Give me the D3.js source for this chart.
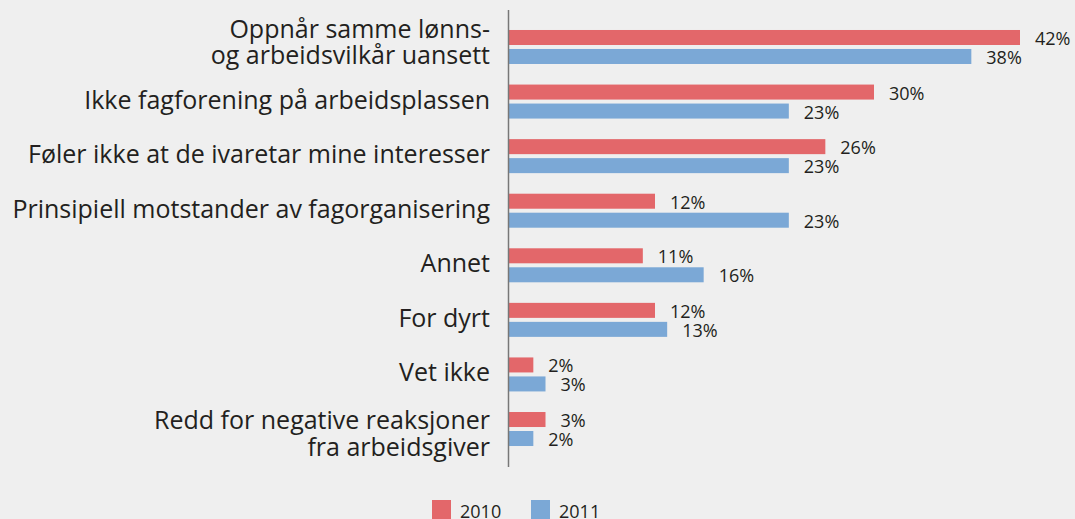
<!DOCTYPE html>
<html>
<head>
<meta charset="utf-8">
<script src="https://cdn.jsdelivr.net/npm/d3@7"></script>
<style>
  body { margin: 0; background: #efefef; }
  svg { display: block; font-family: "Open Sans", "Noto Sans", sans-serif; }
</style>
</head>
<body>
<div id="chart"></div>
<script>
var categories = [
  ["Oppnår samme lønns-", "og arbeidsvilkår uansett"],
  ["Ikke fagforening på arbeidsplassen"],
  ["Føler ikke at de ivaretar mine interesser"],
  ["Prinsipiell motstander av fagorganisering"],
  ["Annet"],
  ["For dyrt"],
  ["Vet ikke"],
  ["Redd for negative reaksjoner", "fra arbeidsgiver"]
];
var series = ["2010", "2011"];
var values2010 = [42, 30, 26, 12, 11, 12, 2, 3];
var values2011 = [38, 23, 23, 23, 16, 13, 3, 2];
var colors = ["#e3676a", "#7ba8d6"];

var svgWidth = 1075, svgHeight = 519;

var svg = d3.select("#chart").append("svg")
  .attr("width", svgWidth)
  .attr("height", svgHeight);

svg.append("rect").attr("width", svgWidth).attr("height", svgHeight).attr("fill", "#efefef");

var x0 = 509;
var xScale = d3.scaleLinear().domain([0, 42]).range([x0, x0 + 511]);

var yScale = d3.scaleBand()
  .domain(d3.range(categories.length))
  .range([19.7, 456.3])
  .paddingInner(0.377)
  .paddingOuter(0.1885);

var ySub = d3.scaleBand()
  .domain(series)
  .range([0, yScale.bandwidth()])
  .paddingInner(0.21);

var rows = categories.map(function(c, i) {
  return { label: c, vals: [values2010[i], values2011[i]], i: i };
});

var groups = svg.selectAll("g.row")
  .data(rows)
  .enter().append("g")
  .attr("class", "row")
  .attr("transform", d => `translate(0, ${yScale(d.i)})`);

groups.selectAll("rect")
  .data(d => d.vals.map((v, k) => ({ v: v, s: series[k], k: k })))
  .enter().append("rect")
  .attr("x", x0)
  .attr("y", d => ySub(d.s))
  .attr("width", d => xScale(d.v) - x0)
  .attr("height", ySub.bandwidth())
  .attr("fill", d => colors[d.k]);

groups.selectAll("text.val")
  .data(d => d.vals.map((v, k) => ({ v: v, s: series[k] })))
  .enter().append("text")
  .attr("class", "val")
  .attr("x", d => xScale(d.v) + 15)
  .attr("y", d => ySub(d.s) + ySub.bandwidth() / 2 + 7.5)
  .attr("font-size", "18px")
  .attr("fill", "#231f20")
  .text(d => d.v + "%");

// category labels (two-line labels sit a bit differently top vs bottom)
var lineH = 26.5;
groups.append("text")
  .attr("text-anchor", "end")
  .attr("font-size", "25px")
  .attr("fill", "#231f20")
  .each(function(d) {
    var t = d3.select(this);
    var n = d.label.length;
    var mid = yScale.bandwidth() / 2;
    var shift = n === 1 ? 7 : (d.i === 0 ? 4 : 13.5);
    d.label.forEach(function(line, j) {
      t.append("tspan")
        .attr("x", 490)
        .attr("y", mid + (j - (n - 1) / 2) * lineH + shift)
        .text(line);
    });
  });

// axis line
svg.append("line")
  .attr("x1", 508.5).attr("x2", 508.5)
  .attr("y1", 10).attr("y2", 467)
  .attr("stroke", "#777")
  .attr("stroke-width", 1.5);

// legend
var legend = svg.selectAll("g.legend")
  .data(series)
  .enter().append("g")
  .attr("class", "legend")
  .attr("transform", (d, i) => `translate(${432 + i * 99}, 500)`);

legend.append("rect")
  .attr("width", 19).attr("height", 19)
  .attr("fill", (d, i) => colors[i]);

legend.append("text")
  .attr("x", 28).attr("y", 18)
  .attr("font-size", "18px")
  .attr("fill", "#231f20")
  .text(d => d);
</script>
</body>
</html>
